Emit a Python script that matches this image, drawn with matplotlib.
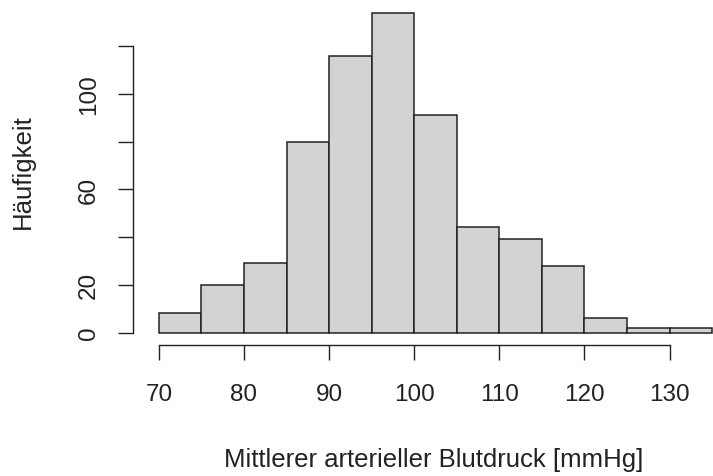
import numpy as np
import matplotlib
matplotlib.use("Agg")
import matplotlib.pyplot as plt

# histogram of mean arterial pressure, bins of 5 mmHg
bin_edges = [70, 75, 80, 85, 90, 95, 100, 105, 110, 115, 120, 125, 130, 135]
counts = [8, 20, 29, 80, 116, 134, 91, 44, 39, 28, 6, 2, 2]
x_ticks = [70, 80, 90, 100, 110, 120, 130]
y_ticks = [0, 20, 40, 60, 80, 100, 120]
y_ticklabels = ["0", "20", "", "60", "", "100", ""]

plt.rcParams['font.family'] = ['Liberation Sans', 'DejaVu Sans']

W, H = 713, 477
fig = plt.figure(figsize=(W / 100, H / 100), dpi=100)
ax = fig.add_axes([133.3 / W, (H - 346.3) / H, (713 - 133.3) / W, (346.3 - 0.8) / H])

edges = np.array(bin_edges)
ax.bar(edges[:-1], counts, width=np.diff(edges), align='edge',
       color='#d3d3d3', edgecolor='#222222', linewidth=1.1)

ax.set_xlim(67.0, 135.1)
ax.set_ylim(-5.36, 139.36)

for s in ['top', 'right']:
    ax.spines[s].set_visible(False)
ax.spines['left'].set_bounds(0, 120)
ax.spines['bottom'].set_bounds(70, 130)
for s in ['left', 'bottom']:
    ax.spines[s].set_linewidth(1.0)
    ax.spines[s].set_color('#222222')

ax.set_xticks(x_ticks)
ax.set_yticks(y_ticks)
ax.set_yticklabels(y_ticklabels)
ax.tick_params(axis='both', length=10.8, width=1.0, color='#222222',
               labelsize=17.5, labelcolor='#222222')
ax.tick_params(axis='x', pad=16.5)
ax.tick_params(axis='y', pad=13, labelrotation=90)
for lab in ax.get_yticklabels():
    lab.set_va('center')

fig.text(434 / W, 1 - 460 / H, "Mittlerer arterieller Blutdruck [mmHg]",
         ha='center', va='center', fontsize=18.5, color='#222222')
fig.text(23 / W, 1 - 172 / H, "Häufigkeit", rotation=90,
         ha='center', va='center', fontsize=18.5, color='#222222')

fig.savefig("out.png", dpi=100)
